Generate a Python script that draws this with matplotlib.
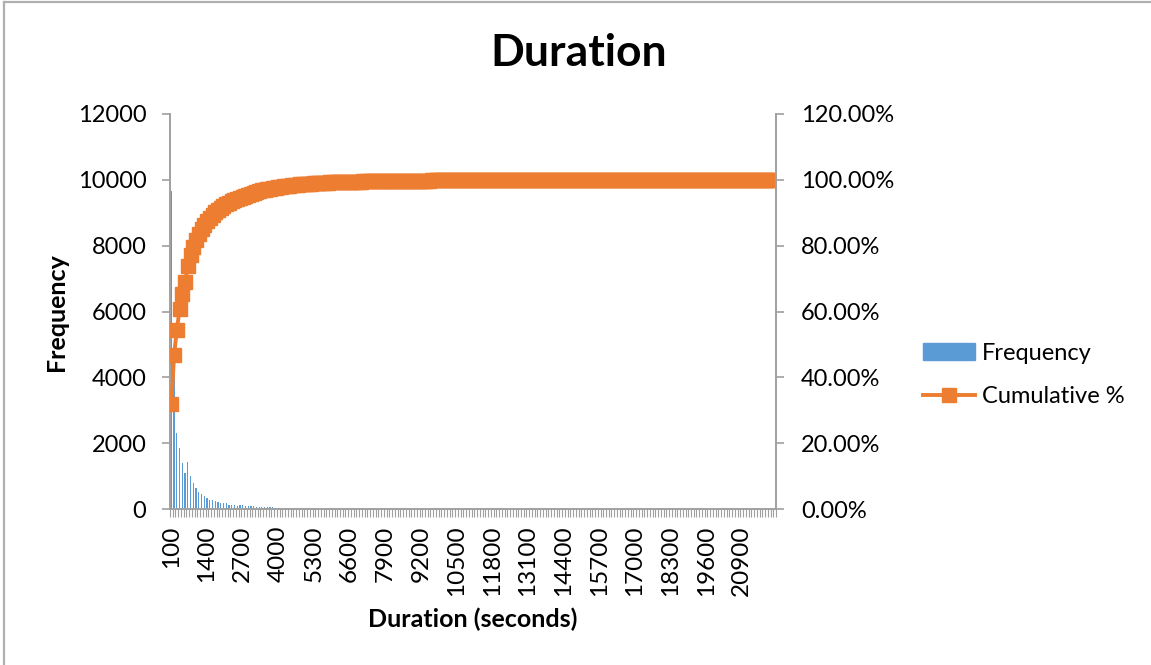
import numpy as np
import matplotlib.pyplot as plt
from matplotlib.lines import Line2D
from matplotlib.patches import Patch
from matplotlib.ticker import FuncFormatter

plt.rcParams['font.family'] = ['Lato', 'DejaVu Sans']

# histogram bins (upper bound in seconds) plus the overflow bin
bins = [str(b) for b in range(100, 22001, 100)] + ['More']

# counts per bin
freq = [
    9650, 4450, 2320, 1860, 1390, 1100, 1440, 1010, 790, 630,
    520, 470, 400, 340, 270, 260, 240, 220, 190, 180,
    170, 130, 120, 120, 100, 110, 110, 95, 90, 85,
    80, 75, 70, 65, 60, 55, 50, 48, 45, 42,
    40, 38, 35, 32, 30, 28, 26, 24, 22, 20,
    19, 18, 17, 16, 15, 14, 13, 12, 11, 10,
    10, 9, 9, 8, 8, 7, 7, 7, 6, 6,
    6, 6, 5, 5, 5, 5, 5, 4, 4, 4,
    4, 4, 4, 3, 3, 3, 3, 3, 3, 3,
    2, 2, 2, 2, 2, 2, 2, 2, 2, 2,
    2, 1, 2, 1, 1, 2, 1, 1, 1, 0,
    1, 1, 0, 1, 1, 1, 0, 1, 0, 1,
    1, 0, 1, 0, 0, 1, 1, 0, 1, 0,
    0, 1, 0, 1, 0, 0, 1, 0, 0, 1,
    0, 0, 1, 0, 0, 0, 1, 0, 0, 1,
    0, 0, 0, 1, 0, 0, 0, 0, 1, 0,
    0, 0, 1, 0, 0, 0, 0, 0, 1, 0,
    0, 0, 0, 1, 0, 0, 0, 0, 0, 0,
    1, 0, 0, 0, 0, 0, 0, 1, 0, 0,
    0, 0, 0, 0, 0, 1, 0, 0, 0, 0,
    0, 0, 0, 0, 1, 0, 0, 0, 0, 0,
    0, 0, 0, 0, 0, 0, 0, 0, 0, 0,
    12,
]

cum = np.cumsum(freq) / np.sum(freq)

BLUE = '#5B9BD5'
ORANGE = '#ED7D31'
GREY = '#A0A0A0'

W, H = 1151, 665
fig = plt.figure(figsize=(W / 100, H / 100), dpi=100)

# chart-area frame (only left and top edges show)
fig.add_artist(Line2D([3.5 / W, 3.5 / W], [0, 1 - 2 / H], color='#B0B0B0', lw=1.6))
fig.add_artist(Line2D([3.5 / W, 1], [1 - 2 / H, 1 - 2 / H], color='#B0B0B0', lw=1.6))

ax = fig.add_axes([170 / W, 1 - 509 / H, (776 - 170) / W, (509 - 114) / H])
x = np.arange(len(freq))
ax.bar(x, freq, width=0.45, color=BLUE)
ax.set_xlim(-0.5, len(freq) - 0.5)
ax.set_ylim(0, 12000)
ax.set_yticks(range(0, 12001, 2000))
ax.set_xticks(x[::13])
ax.set_xticklabels(bins[::13], rotation=90)
ax.set_xticks(np.arange(-0.5, len(freq)), minor=True)
ax.tick_params(axis='x', which='major', length=0, pad=12, labelsize=17.5)
ax.tick_params(axis='x', which='minor', length=6, width=0.8, color=GREY)
ax.tick_params(axis='y', length=6, width=1.2, color=GREY, pad=11, labelsize=17)
for s in ['top', 'right']:
    ax.spines[s].set_visible(False)
for s in ['left', 'bottom']:
    ax.spines[s].set_color(GREY)
    ax.spines[s].set_linewidth(1.4)

ax2 = ax.twinx()
ax2.plot(x, cum, color=ORANGE, lw=2.8, marker='s', ms=10, mec=ORANGE)
ax2.set_ylim(0, 1.2)
ax2.set_yticks(np.arange(0, 1.21, 0.2))
ax2.yaxis.set_major_formatter(FuncFormatter(lambda v, p: f'{v * 100:.2f}%'))
ax2.tick_params(axis='y', length=6, width=1.2, color=GREY, pad=12, labelsize=17)
for s in ['top', 'left', 'bottom']:
    ax2.spines[s].set_visible(False)
ax2.spines['right'].set_color(GREY)
ax2.spines['right'].set_linewidth(1.4)

fig.text(579 / W, 1 - 53 / H, 'Duration', ha='center', va='center',
         fontsize=32, fontweight='bold')
fig.text(57 / W, 1 - 312 / H, 'Frequency', ha='center', va='center',
         rotation=90, fontsize=18, fontweight='bold')
fig.text(473 / W, 1 - 619 / H, 'Duration (seconds)', ha='center', va='center',
         fontsize=18, fontweight='bold')

handles = [Patch(color=BLUE),
           Line2D([], [], color=ORANGE, lw=2.8, marker='s', ms=10)]
fig.legend(handles, ['Frequency', 'Cumulative %'], loc='center left',
           bbox_to_anchor=(902 / W, 1 - 375 / H), frameon=False, fontsize=17,
           handlelength=2.2, handletextpad=0.3, labelspacing=0.95)

fig.savefig('out.png', dpi=100)
